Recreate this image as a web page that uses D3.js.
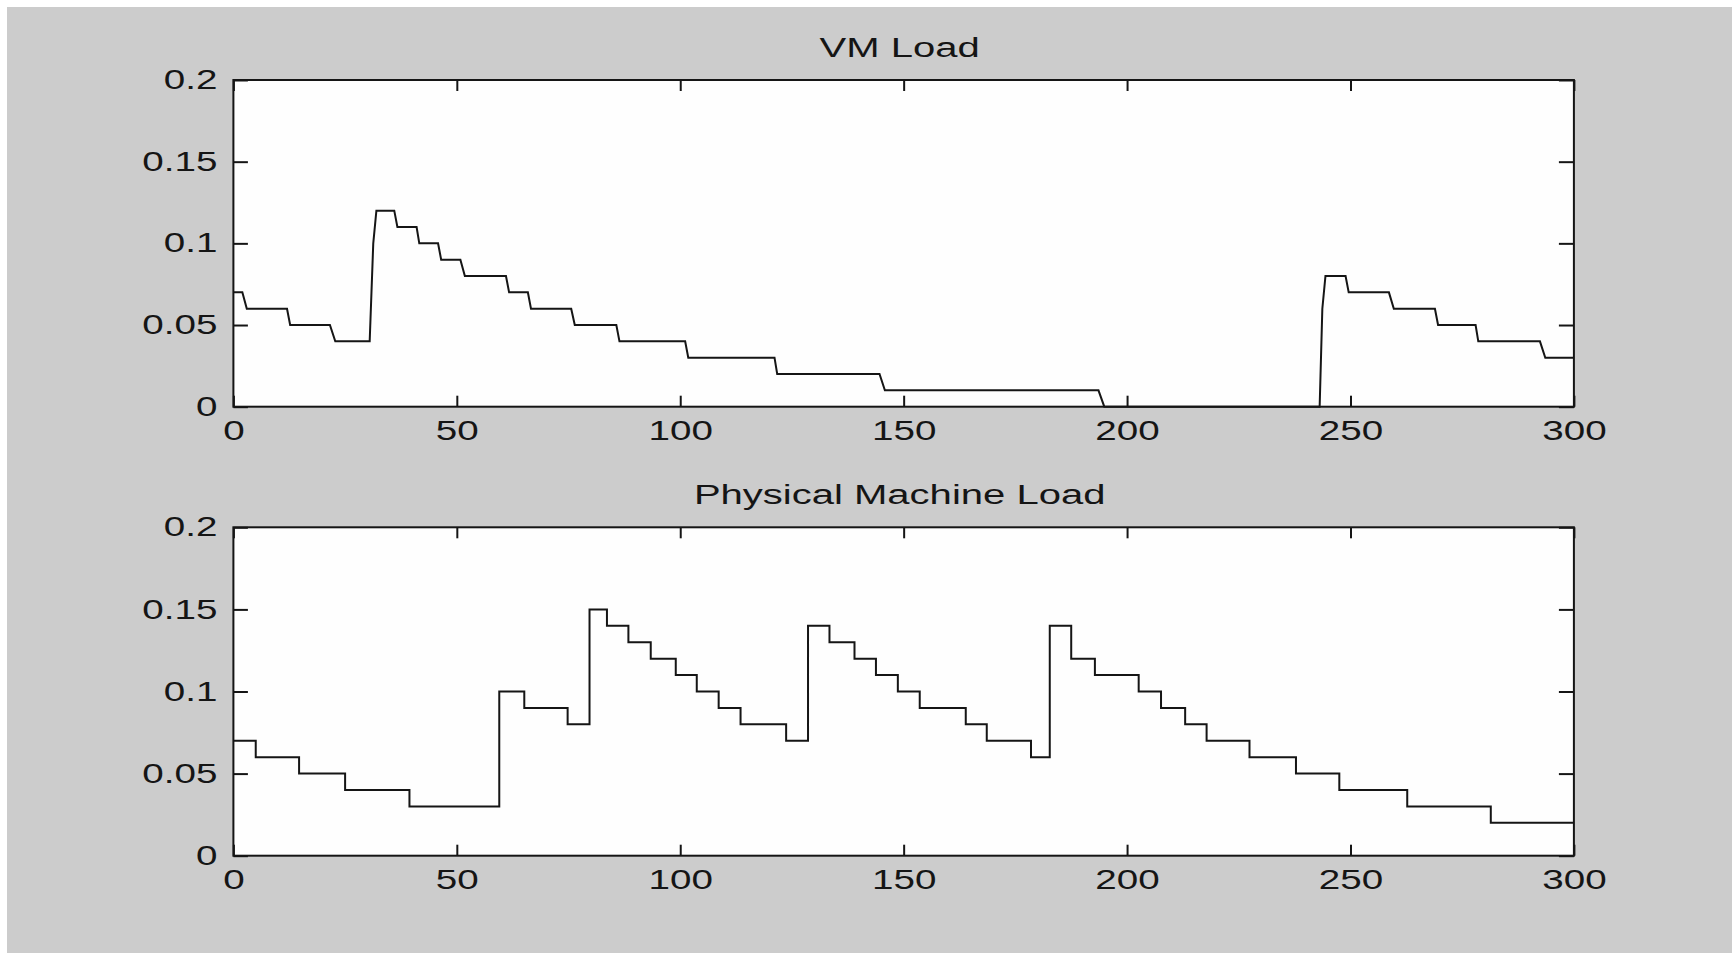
<!DOCTYPE html>
<html>
<head>
<meta charset="utf-8">
<script src="https://cdn.jsdelivr.net/npm/d3@7"></script>
<style>
  body { margin: 0; background: #fff; }
  svg { display: block; }
</style>
</head>
<body>
<div id="chart"></div>
<script>
// ──── Data ────
const xTicks = [0, 50, 100, 150, 200, 250, 300];
const yTicks = [0, 0.05, 0.1, 0.15, 0.2];
const yTickLabels = ["0", "0.05", "0.1", "0.15", "0.2"];

// VM load: sampled line, steps have a slight slope
const vmTimes = [0, 2, 3, 12, 12.7, 21.6, 22.8, 30.5, 31.3, 32, 36, 36.7, 41, 41.6, 45.8, 46.5,
    50.8, 51.8, 61, 61.7, 65.9, 66.6, 75.6, 76.4, 85.7, 86.4, 101.1, 101.8, 121.1, 121.7,
    144.6, 145.8, 193.6, 194.9, 243.1, 243.7, 244.4, 248.9, 249.6, 258.6, 259.7, 268.9, 269.6,
    278, 278.6, 292.4, 293.6, 300];
const vmLoads = [0.07, 0.07, 0.06, 0.06, 0.05, 0.05, 0.04, 0.04, 0.10, 0.12, 0.12, 0.11, 0.11, 0.10, 0.10, 0.09,
    0.09, 0.08, 0.08, 0.07, 0.07, 0.06, 0.06, 0.05, 0.05, 0.04, 0.04, 0.03, 0.03, 0.02,
    0.02, 0.01, 0.01, 0, 0, 0.06, 0.08, 0.08, 0.07, 0.07, 0.06, 0.06, 0.05,
    0.05, 0.04, 0.04, 0.03, 0.03];

// Physical machine load: hard steps (value holds from each time onward)
const pmTimes = [0, 5, 14.7, 25, 39.4, 59.5, 65.1, 74.8, 79.7, 83.6, 88.4, 93.4, 99, 103.7,
    108.6, 113.5, 123.7, 128.6, 133.4, 139, 143.8, 148.7, 153.6, 163.9, 168.6, 178.5, 182.7,
    187.5, 192.8, 202.6, 207.6, 213, 217.8, 227.4, 237.8, 247.5, 262.7, 281.4, 300];
const pmLoads = [0.07, 0.06, 0.05, 0.04, 0.03, 0.10, 0.09, 0.08, 0.15, 0.14, 0.13, 0.12, 0.11, 0.10,
    0.09, 0.08, 0.07, 0.14, 0.13, 0.12, 0.11, 0.10, 0.09, 0.08, 0.07, 0.06, 0.14,
    0.12, 0.11, 0.10, 0.09, 0.08, 0.07, 0.06, 0.05, 0.04, 0.03, 0.02, 0.02];

// ──── Layout ────
const W = 1732, H = 953;
const plotLeft = 233.4, plotRight = 1573.9;
const stretch = 1.43;      // the original text is drawn wide
const font = "'Liberation Sans', Arial, sans-serif";
const ink = "#151515";

const panels = [
    { title: "VM Load", top: 80, bottom: 406.7, times: vmTimes, loads: vmLoads, curve: d3.curveLinear },
    { title: "Physical Machine Load", top: 527.3, bottom: 855.7, times: pmTimes, loads: pmLoads, curve: d3.curveStepAfter }
];

const svg = d3.select("#chart")
    .append("svg")
    .attr("width", W)
    .attr("height", H);

svg.append("rect").attr("width", W).attr("height", H).attr("fill", "#fff");
svg.append("rect").attr("x", 7).attr("y", 7).attr("width", W - 7).attr("height", H - 7).attr("fill", "#cccccc");

const x = d3.scaleLinear().domain([0, 300]).range([plotLeft, plotRight]);

function widen(sel) {
    sel.selectAll("text")
        .attr("font-size", 27)
        .attr("font-family", font)
        .attr("fill", ink)
        .attr("transform", `scale(${stretch},1)`)
        .attr("x", function() { return +this.getAttribute("x") / stretch; });
}

panels.forEach(p => {
    const y = d3.scaleLinear().domain([0, 0.2]).range([p.bottom, p.top]);
    const g = svg.append("g");

    g.append("rect")
        .attr("x", plotLeft).attr("y", p.top)
        .attr("width", plotRight - plotLeft).attr("height", p.bottom - p.top)
        .attr("fill", "#fefefe");

    // ticks point inward on all four sides
    const bottomAxis = g.append("g")
        .attr("transform", `translate(0,${p.bottom})`)
        .call(d3.axisBottom(x).tickValues(xTicks).tickFormat(d3.format("d"))
            .tickSizeInner(-11).tickSizeOuter(0).tickPadding(14));
    const topAxis = g.append("g")
        .attr("transform", `translate(0,${p.top})`)
        .call(d3.axisTop(x).tickValues(xTicks).tickFormat("")
            .tickSizeInner(-11).tickSizeOuter(0));
    const leftAxis = g.append("g")
        .attr("transform", `translate(${plotLeft},0)`)
        .call(d3.axisLeft(y).tickValues(yTicks).tickFormat((d, i) => yTickLabels[i])
            .tickSizeInner(-14.5).tickSizeOuter(0).tickPadding(16));
    const rightAxis = g.append("g")
        .attr("transform", `translate(${plotRight},0)`)
        .call(d3.axisRight(y).tickValues(yTicks).tickFormat("")
            .tickSizeInner(-15).tickSizeOuter(0));

    [bottomAxis, topAxis, leftAxis, rightAxis].forEach(a => {
        a.select(".domain").remove();
        a.selectAll(".tick line").attr("stroke", ink).attr("stroke-width", 2);
    });
    widen(bottomAxis);
    widen(leftAxis);

    // box
    g.append("rect")
        .attr("x", plotLeft).attr("y", p.top)
        .attr("width", plotRight - plotLeft).attr("height", p.bottom - p.top)
        .attr("fill", "none").attr("stroke", ink).attr("stroke-width", 2);

    // series
    const pts = p.times.map((t, i) => ({ t, v: p.loads[i] }));
    const line = d3.line().x(d => x(d.t)).y(d => y(d.v)).curve(p.curve);
    g.append("path")
        .datum(pts)
        .attr("d", line)
        .attr("fill", "none")
        .attr("stroke", ink)
        .attr("stroke-width", 2);

    // title
    g.append("text")
        .attr("transform", `translate(${(plotLeft + plotRight) / 2 - 4},${p.top - 23.5}) scale(${stretch},1)`)
        .attr("text-anchor", "middle")
        .attr("font-size", 28)
        .attr("font-family", font)
        .attr("fill", ink)
        .text(p.title);
});
</script>
</body>
</html>
